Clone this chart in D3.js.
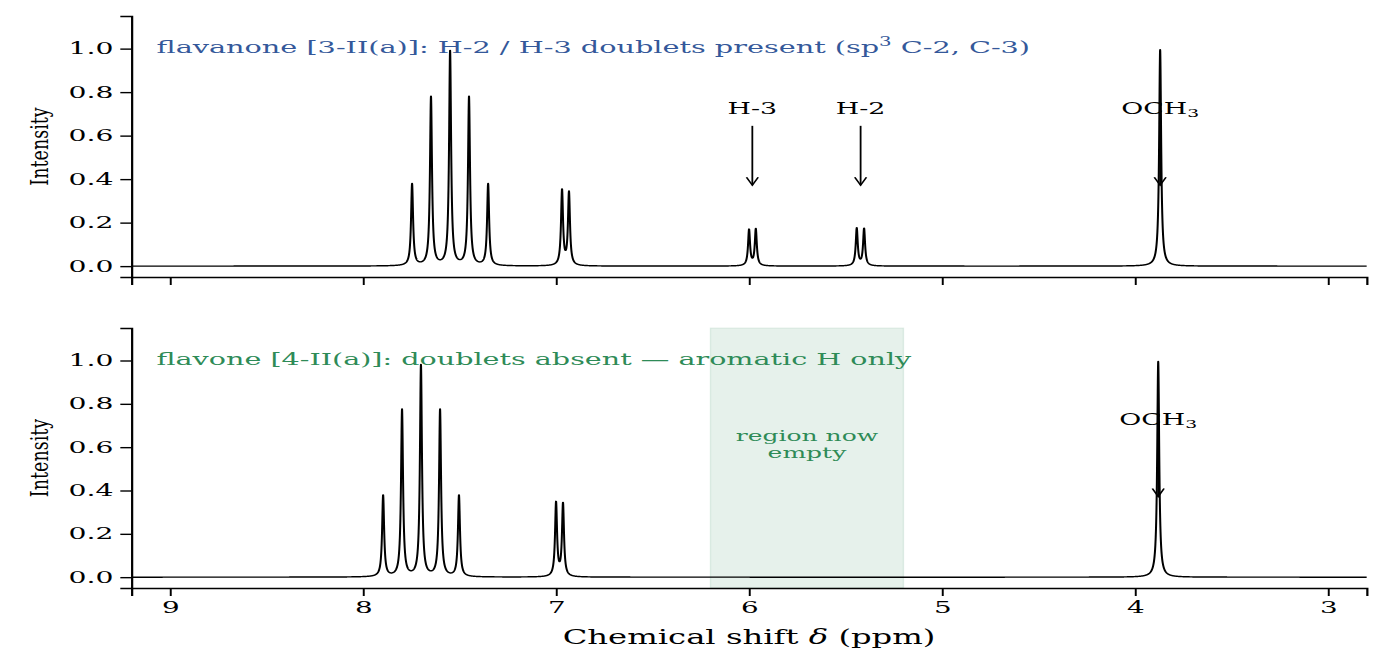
<!DOCTYPE html>
<html>
<head>
<meta charset="utf-8">
<script src="https://cdn.jsdelivr.net/npm/d3@7"></script>
<style>
  html, body { margin: 0; padding: 0; background: #fff; }
  svg { display: block; }
  text { font-family: "DejaVu Serif", serif; }
</style>
</head>
<body>
<svg id="chart"></svg>
<script>
// ---------------- data ----------------
const xTicks = [9, 8, 7, 6, 5, 4, 3];
const yTicks = [0.0, 0.2, 0.4, 0.6, 0.8, 1.0];

// flavanone [3-II(a)] peaks: shift (ppm) and height
const flavanoneShifts  = [7.746, 7.648, 7.549, 7.451, 7.352, 6.969, 6.933, 6.000, 5.965, 5.442, 5.404, 3.870];
const flavanoneHeights = [0.375, 0.775, 0.985, 0.775, 0.375, 0.345, 0.335, 0.165, 0.168, 0.172, 0.170, 0.995];

// flavone [4-II(a)] peaks
const flavoneShifts  = [7.896, 7.798, 7.700, 7.601, 7.503, 7.000, 6.964, 3.880];
const flavoneHeights = [0.375, 0.770, 0.975, 0.770, 0.375, 0.340, 0.335, 0.995];

const panelTitles = [
  "flavanone [3-II(a)]: H-2 / H-3 doublets present (sp",
  "flavone [4-II(a)]: doublets absent \u2014 aromatic H only"
];
const annotTop = [
  { label: "H-3", x: 5.983 },
  { label: "H-2", x: 5.422 },
  { label: "OCH", sub: "3", x: 3.870 }
];
const annotBottom = [ { label: "OCH", sub: "3", x: 3.880 } ];
const emptyRegion = [6.2, 5.2];
const emptyLabel = ["region now", "empty"];

// ---------------- layout ----------------
const W = 1391, H = 667;
const VW = 1000; // drawing is done in a narrower frame then stretched horizontally
const svg = d3.select("#chart")
  .attr("width", W).attr("height", H)
  .attr("viewBox", `0 0 ${VW} ${H}`)
  .attr("preserveAspectRatio", "none");

// widen a text element horizontally around its anchor x
function widen(sel, k, ax) {
  sel.attr("transform", `translate(${ax},0) scale(${k},1) translate(${-ax},0)`);
}

const x = d3.scaleLinear().domain([9.2, 2.8]).range([94.5, 982.5]);
const panels = [
  { top: 16, bottom: 277, shifts: flavanoneShifts, heights: flavanoneHeights, title: panelTitles[0], color: "#34589a", annots: annotTop, showX: false },
  { top: 328, bottom: 588, shifts: flavoneShifts, heights: flavoneHeights, title: panelTitles[1], color: "#2e8b57", annots: annotBottom, showX: true }
];

const gamma = 0.0062; // Lorentzian half width (ppm)
const step = 0.0005;
const grid = d3.range(9.2, 2.8 - step / 2, -step);

function spectrum(shifts, heights) {
  return grid.map(d => {
    let s = 0;
    for (let i = 0; i < shifts.length; i++) {
      const u = (d - shifts[i]) / gamma;
      s += heights[i] / (1 + u * u);
    }
    return [d, s];
  });
}

panels.forEach((p, pi) => {
  const y = d3.scaleLinear().domain([-0.05, 1.15]).range([p.bottom, p.top]);
  const g = svg.append("g");

  // shaded empty region in bottom panel
  if (pi === 1) {
    g.append("rect")
      .attr("x", x(emptyRegion[0])).attr("width", x(emptyRegion[1]) - x(emptyRegion[0]))
      .attr("y", p.top).attr("height", p.bottom - p.top)
      .attr("fill", "#2e8b57").attr("fill-opacity", 0.12)
      .attr("stroke", "#2e8b57").attr("stroke-opacity", 0.12).attr("stroke-width", 1);
    const cx = x((emptyRegion[0] + emptyRegion[1]) / 2);
    g.append("text").attr("x", cx).attr("y", y(0.63)).attr("text-anchor", "middle")
      .attr("font-size", 15).attr("fill", "#2e8b57").text(emptyLabel[0]).call(widen, 1.2, cx);
    g.append("text").attr("x", cx).attr("y", y(0.552)).attr("text-anchor", "middle")
      .attr("font-size", 15).attr("fill", "#2e8b57").text(emptyLabel[1]).call(widen, 1.2, cx);
  }

  // spectrum line
  const line = d3.line().x(d => x(d[0])).y(d => y(d[1]));
  g.append("path").datum(spectrum(p.shifts, p.heights))
    .attr("d", line).attr("fill", "none").attr("stroke", "#000")
    .attr("stroke-width", 1.45).attr("stroke-linejoin", "round");

  // axes
  const yAxis = d3.axisLeft(y).tickValues(yTicks).tickFormat(d3.format(".1f")).tickSizeOuter(0).tickSize(8).tickPadding(5);
  const ya = g.append("g").attr("transform", `translate(${x(9.2)},0)`).call(yAxis);
  ya.select(".domain").attr("stroke-width", 1.6);
  ya.selectAll(".tick line").attr("stroke-width", 1.4);
  ya.selectAll(".tick text").attr("font-size", 16).attr("font-family", "DejaVu Serif").attr("fill", "#000")
    .each(function() { widen(d3.select(this), 1.27, -13); });

  const xAxis = d3.axisBottom(x).tickValues(xTicks).tickFormat(p.showX ? d3.format("d") : () => "").tickSizeOuter(0).tickSize(8).tickPadding(6);
  const xa = g.append("g").attr("transform", `translate(0,${p.bottom})`).call(xAxis);
  xa.select(".domain").attr("stroke-width", 1.6);
  xa.selectAll(".tick line").attr("stroke-width", 1.4);
  xa.selectAll(".tick text").attr("font-size", 16).attr("font-family", "DejaVu Serif").attr("fill", "#000")
    .each(function() { widen(d3.select(this), 1.25, 0); });

  // y label
  g.append("text")
    .attr("transform", `translate(28.5,${(p.top + p.bottom) / 2}) rotate(-90)`)
    .attr("text-anchor", "middle").attr("dominant-baseline", "central")
    .attr("font-size", 17.5).text("Intensity");

  // panel title
  const tx = 112.5;
  const t = g.append("text").attr("x", tx).attr("y", p.top + (p.bottom - p.top) * 0.12 + 6)
    .attr("font-size", 17.5).attr("fill", p.color);
  t.append("tspan").text(p.title);
  if (pi === 0) {
    t.append("tspan").attr("font-size", 12).attr("dy", -7).text("3");
    t.append("tspan").attr("dy", 7).text(" C-2, C-3)");
  }
  widen(t, pi === 0 ? 1.18 : 1.175, tx);

  // annotations
  p.annots.forEach(a => {
    const ax = x(a.x);
    const tt = g.append("text").attr("x", ax).attr("y", y(0.70))
      .attr("text-anchor", "middle").attr("font-size", 16.5).attr("fill", "#000");
    tt.append("tspan").text(a.label);
    if (a.sub) tt.append("tspan").attr("font-size", 11.5).attr("dy", 3).text(a.sub);
    widen(tt, 1.17, ax);
    const y0 = y(0.645), y1 = y(0.372);
    g.append("line").attr("x1", ax).attr("x2", ax).attr("y1", y0).attr("y2", y1)
      .attr("stroke", "#000").attr("stroke-width", 1.3);
    g.append("path")
      .attr("d", `M${ax - 4.2},${y1 - 8} L${ax},${y1} L${ax + 4.2},${y1 - 8}`)
      .attr("fill", "none").attr("stroke", "#000").attr("stroke-width", 1.3);
  });
});

// x label
const lx = x(6);
svg.append("text").attr("x", lx).attr("y", 644)
  .attr("text-anchor", "middle").attr("font-size", 20)
  .call(t => {
    t.append("tspan").text("Chemical shift ");
    t.append("tspan").attr("font-style", "italic").text("\u03b4");
    t.append("tspan").text(" (ppm)");
  })
  .call(widen, 1.16, lx);
</script>
</body>
</html>
